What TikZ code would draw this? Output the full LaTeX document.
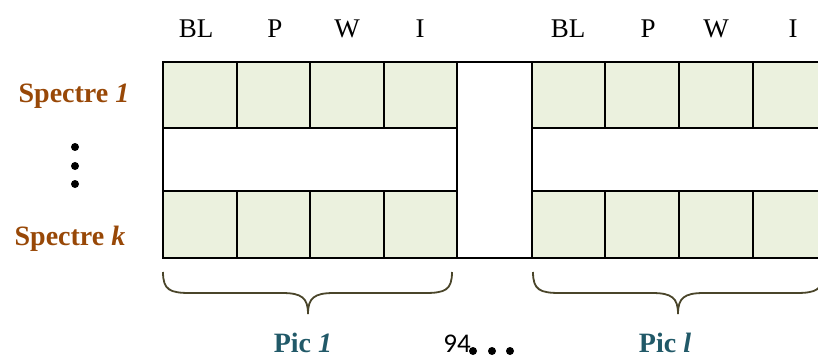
\documentclass[tikz,border=0pt]{standalone}
\usepackage{fontspec}
\setmainfont{Liberation Serif}
\newfontfamily\numfont{Carlito}
\definecolor{specbrown}{HTML}{984807}
\definecolor{picteal}{HTML}{215968}
\definecolor{cellgreen}{HTML}{EBF1DE}
\definecolor{bracecol}{HTML}{4A452A}
\begin{document}
\begin{tikzpicture}[x=1pt,y=-1pt,
  gridline/.style={line width=2.6pt, draw=black, line cap=rect},
  hdr/.style={font=\fontsize{27}{30}\selectfont, anchor=base, inner sep=0pt},
  speclabel/.style={font=\fontsize{28}{32}\selectfont\bfseries, text=specbrown, anchor=base, inner sep=0pt},
  piclabel/.style={font=\fontsize{28}{32}\selectfont\bfseries, text=picteal, anchor=base, inner sep=0pt},
  bracepath/.style={line width=1.8pt, draw=bracecol},
  dotmark/.style={fill=black}]
\clip (0,0) rectangle (818,358);
% green rows
\fill[cellgreen] (163,62) rectangle (457,128);
\fill[cellgreen] (163,191) rectangle (457,258);
\fill[cellgreen] (532,62) rectangle (830,128);
\fill[cellgreen] (532,191) rectangle (830,258);
% horizontal lines
\draw[gridline] (163,62) -- (830,62);
\draw[gridline] (163,258) -- (830,258);
\draw[gridline] (163,128) -- (457,128);
\draw[gridline] (163,191) -- (457,191);
\draw[gridline] (532,128) -- (830,128);
\draw[gridline] (532,191) -- (830,191);
% vertical lines
\foreach \x in {163,457,532,827} \draw[gridline] (\x,62) -- (\x,258);
\foreach \x in {237,310,384,605,679,753} {
  \draw[gridline] (\x,62) -- (\x,128);
  \draw[gridline] (\x,191) -- (\x,258);
}
% headers
\node[hdr] (hbl1) at (196,38) {BL};
\node[hdr] (hp1) at (275,38) {P};
\node[hdr] (hw1) at (347,38) {W};
\node[hdr] (hi1) at (420,38) {I};
\node[hdr] (hbl2) at (568,38) {BL};
\node[hdr] (hp2) at (648,38) {P};
\node[hdr] (hw2) at (716,38) {W};
\node[hdr] (hi2) at (793,38) {I};
% row labels
\node[speclabel] (s1) at (74,103) {Spectre \textit{1}};
\node[speclabel] (sk) at (70,245) {Spectre \textit{k}};
\fill[dotmark] (75,147) circle (4pt);
\fill[dotmark] (75,166) circle (4pt);
\fill[dotmark] (75,184) circle (4pt);
% braces
\draw[bracepath] (163,272) .. controls (163,290) and (170,293) .. (190,293) -- (282,293)
  .. controls (302,293) and (308,298) .. (308,314);
\draw[bracepath] (452,272) .. controls (452,290) and (445,293) .. (425,293) -- (334,293)
  .. controls (314,293) and (308,298) .. (308,314);
\draw[bracepath] (533,272) .. controls (533,290) and (540,293) .. (560,293) -- (652,293)
  .. controls (672,293) and (678,298) .. (678,314);
\draw[bracepath] (823,272) .. controls (823,290) and (816,293) .. (796,293) -- (704,293)
  .. controls (684,293) and (678,298) .. (678,314);
% bottom labels
\node[piclabel] (p1) at (303,352) {Pic \textit{1}};
\node[piclabel] (pl) at (665,352) {Pic \textit{l}};
\node[font=\numfont\fontsize{27}{30}\selectfont, anchor=base, inner sep=0pt] (pg) at (457,352) {94};
\fill[dotmark] (473,351) circle (4pt);
\fill[dotmark] (492,351) circle (4pt);
\fill[dotmark] (510,351) circle (4pt);
\end{tikzpicture}
\end{document}
